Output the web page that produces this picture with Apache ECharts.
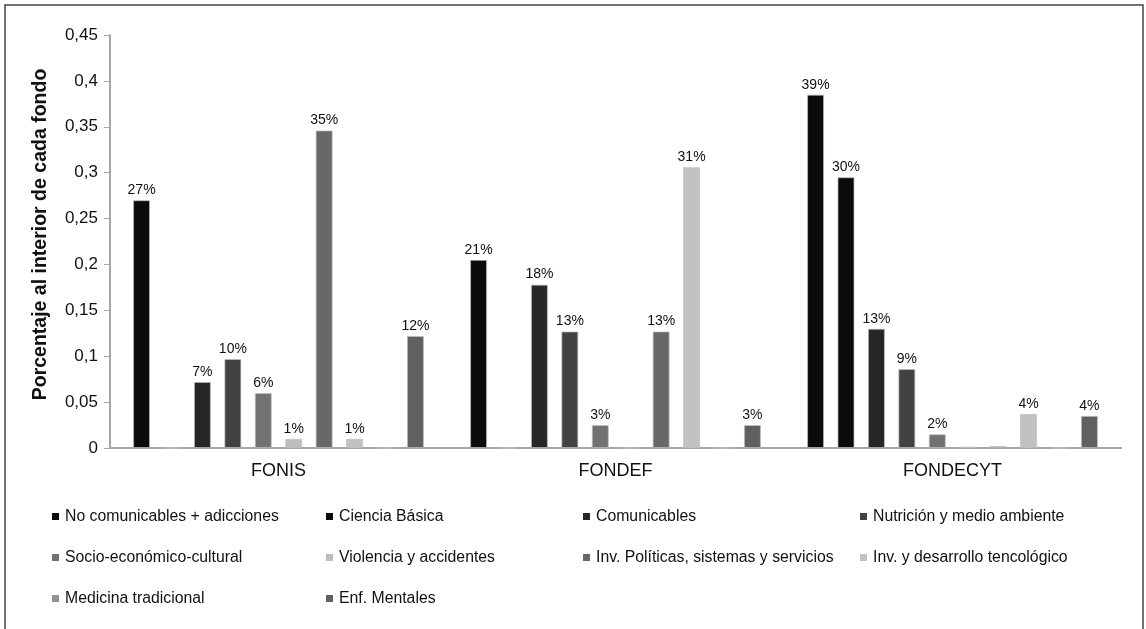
<!DOCTYPE html>
<html lang="es">
<head>
    <meta charset="UTF-8">
    <title>Porcentaje al interior de cada fondo</title>
</head>
<script type="text/javascript" src="https://cdn.jsdelivr.net/npm/echarts@6/dist/echarts.min.js"></script>
<style type="text/css">
    body {
        margin: 0;
        background-color: #ffffff;
    }
</style>
<body>
<div id="bar_main" style="width: 1146px;height:629px;"></div>
<script type="text/javascript">
    // fondos (eje x)
    var funds = ['FONIS', 'FONDEF', 'FONDECYT'];
    // áreas (series)
    var areas = ['No comunicables + adicciones', 'Ciencia Básica', 'Comunicables', 'Nutrición y medio ambiente',
        'Socio-económico-cultural', 'Violencia y accidentes', 'Inv. Políticas, sistemas y servicios',
        'Inv. y desarrollo tencológico', 'Medicina tradicional', 'Enf. Mentales'];
    // valores por fondo, en el orden de las áreas
    var fonis = [0.27, 0, 0.072, 0.097, 0.06, 0.01, 0.346, 0.01, 0, 0.122];
    var fondef = [0.205, 0, 0.178, 0.127, 0.025, 0, 0.127, 0.306, 0, 0.025];
    var fondecyt = [0.385, 0.295, 0.13, 0.086, 0.015, 0.0015, 0.002, 0.037, 0, 0.035];
    var yTicks = [0, 0.45, 0.05];

    var colors = ['#0b0b0b', '#0b0b0b', '#262626', '#424242', '#727272',
        '#bdbdbd', '#686868', '#c2c2c2', '#929292', '#606060'];

    var chart = echarts.init(document.getElementById('bar_main'));

    var series = [];
    for (var i = 0; i < areas.length; i++) {
        series.push({
            name: areas[i],
            type: 'bar',
            barWidth: 17,
            barGap: '79%',
            data: [fonis[i], fondef[i], fondecyt[i]],
            itemStyle: {
                color: colors[i],
                borderColor: 'rgba(190,190,190,0.7)',
                borderWidth: 1
            },
            label: {
                show: true,
                position: 'top',
                distance: 3,
                color: '#111',
                fontSize: 14,
                fontFamily: 'Liberation Sans, Arial, sans-serif',
                formatter: function (p) {
                    // sin etiqueta para barras casi nulas
                    if (p.value < 0.005) return '';
                    return Math.round(p.value * 100) + '%';
                }
            }
        });
    }

    // leyenda en 4 columnas, como en el original
    var legendCols = [
        {left: 52, data: [areas[0], areas[4], areas[8]]},
        {left: 326, data: [areas[1], areas[5], areas[9]]},
        {left: 583, data: [areas[2], areas[6]]},
        {left: 860, data: [areas[3], areas[7]]}
    ];
    var legends = legendCols.map(function (c) {
        return {
            orient: 'vertical',
            left: c.left,
            top: 508,
            padding: 0,
            itemGap: 24,
            itemWidth: 7,
            itemHeight: 7,
            icon: 'rect',
            selectedMode: false,
            itemStyle: {borderWidth: 0},
            data: c.data,
            textStyle: {
                fontSize: 15.8,
                color: '#111',
                fontFamily: 'Liberation Sans, Arial, sans-serif',
                padding: [0, 0, 0, 1],
                lineHeight: 17
            }
        };
    });

    chart.setOption({
        animation: false,
        textStyle: {fontFamily: 'Liberation Sans, Arial, sans-serif'},
        color: colors,
        grid: {left: 110, right: 25, top: 35, bottom: 181},
        legend: legends,
        graphic: [{
            type: 'rect',
            shape: {x: 5, y: 5, width: 1138, height: 640},
            style: {fill: 'none', stroke: '#444', lineWidth: 1.5}
        }],
        xAxis: {
            type: 'category',
            data: funds,
            axisLine: {lineStyle: {color: '#a6a6a6', width: 2}},
            axisTick: {show: false},
            axisLabel: {color: '#111', fontSize: 18, margin: 14}
        },
        yAxis: {
            type: 'value',
            min: yTicks[0],
            max: yTicks[1],
            interval: yTicks[2],
            name: 'Porcentaje al interior de cada fondo',
            nameLocation: 'middle',
            nameGap: 59,
            nameTextStyle: {color: '#111', fontSize: 19.5, fontWeight: 'bold', padding: [0, 0, 0, 14]},
            axisLine: {show: true, lineStyle: {color: '#a6a6a6', width: 2}},
            axisTick: {show: true, length: 6, lineStyle: {color: '#a6a6a6'}},
            splitLine: {show: false},
            axisLabel: {
                color: '#111',
                fontSize: 17,
                margin: 12,
                formatter: function (v) {
                    return String(+v.toFixed(2)).replace('.', ',');
                }
            }
        },
        series: series
    });
</script>
</body>
</html>
